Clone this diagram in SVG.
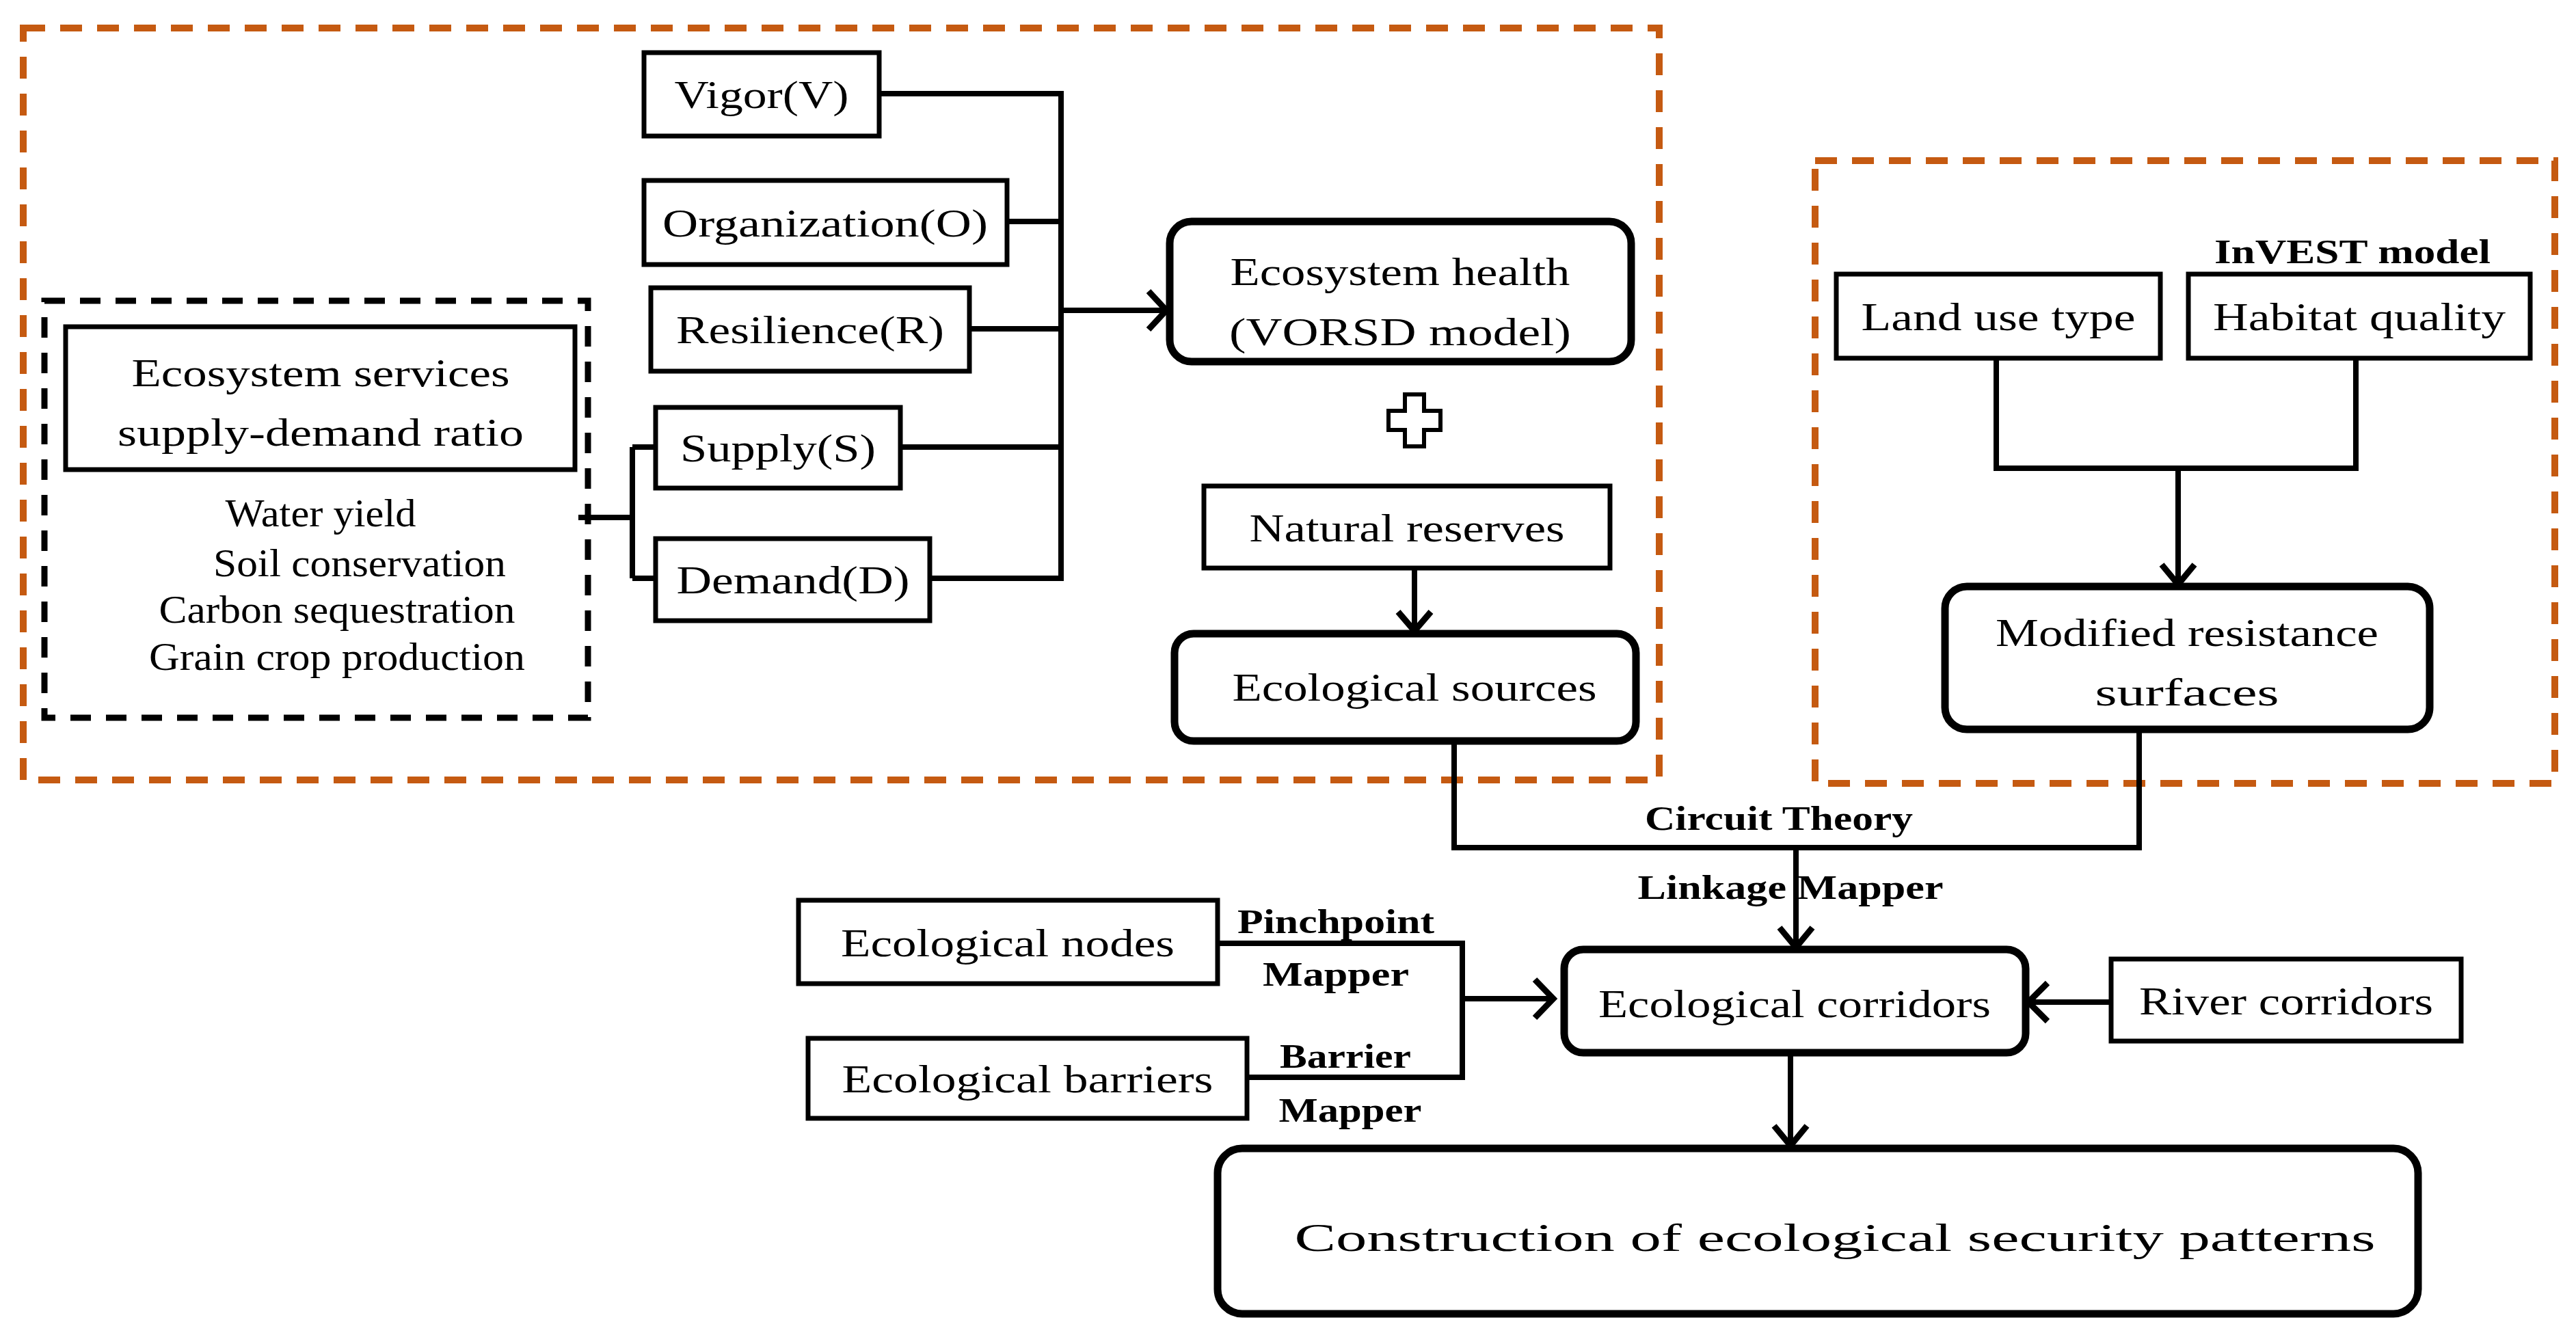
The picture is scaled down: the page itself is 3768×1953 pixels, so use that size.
<svg xmlns="http://www.w3.org/2000/svg" width="3768" height="1953" viewBox="0 0 3768 1953">
<style>
text{font-family:"Liberation Serif","Times New Roman",serif;font-size:58px;fill:#000;text-anchor:middle}
.b{font-weight:bold;font-size:50px}
.box{fill:#fff;stroke:#000;stroke-width:7}
.rbox{fill:#fff;stroke:#000;stroke-width:11}
.ln{fill:none;stroke:#000;stroke-width:8}
.org{fill:none;stroke:#C55A11;stroke-width:10;stroke-dasharray:32 22}
.blk{fill:none;stroke:#000;stroke-width:9;stroke-dasharray:30 22}
</style>
<defs>
<marker id="ah" viewBox="0 0 10 10" refX="9" refY="5" markerWidth="5" markerHeight="5" orient="auto" markerUnits="userSpaceOnUse" overflow="visible">
<path d="M0,0 L9,5 L0,10" fill="none" stroke="#000" stroke-width="2"/>
</marker>
</defs>
<rect width="3768" height="1953" fill="#fff"/>
<rect class="org" x="34" y="41" width="2393" height="1100"/>
<rect class="org" x="2655" y="235" width="1082" height="911"/>
<rect class="blk" x="65" y="440" width="795" height="610"/>
<g id="connectors">
<path class="ln" d="M1286,137 H1552 M1473,324 H1552 M1418,481 H1552 M1317,654 H1552 M1360,846 H1552 M1552,133 V850"/>
<path class="ln" d="M1552,454 H1703" marker-end="url(#ah)" style="marker-end:url(#ah)"/>
<path class="ln" d="M846,757 H925 M925,654 V846 M925,654 H959 M925,846 H959"/>
<path class="ln" d="M2069,831 V920"/>
<path class="ln" d="M2920,524 V685 H3446 V524 M3186,685 V852"/>
<path class="ln" d="M2127,1084 V1240 H3129 V1067 M2627,1240 V1382"/>
<path class="ln" d="M3088,1466 H2970"/>
<path class="ln" d="M1781,1380 H2139 V1576 H1824 M2139,1461 H2266"/>
<path class="ln" d="M2619,1540 V1672"/>
<g fill="none" stroke="#000" stroke-width="9">
<path d="M1680,426 L1706,454 L1680,482"/>
<path d="M2045,895 L2069,923 L2093,895"/>
<path d="M3162,826 L3186,855 L3210,826"/>
<path d="M2603,1357 L2627,1386 L2651,1357"/>
<path d="M2995,1438 L2967,1466 L2995,1494"/>
<path d="M2245,1433 L2272,1461 L2245,1489"/>
<path d="M2595,1647 L2619,1676 L2643,1647"/>
</g>
</g>
<g id="es-ratio"><rect class="box" x="96" y="478" width="745" height="209"/>
<text x="469" y="565" textLength="553" lengthAdjust="spacingAndGlyphs">Ecosystem services</text>
<text x="469" y="652" textLength="594" lengthAdjust="spacingAndGlyphs">supply-demand ratio</text></g>
<g id="es-list">
<text x="469" y="770" font-size="52" textLength="279" lengthAdjust="spacingAndGlyphs">Water yield</text>
<text x="526" y="843" font-size="52" textLength="428" lengthAdjust="spacingAndGlyphs">Soil conservation</text>
<text x="493" y="911" font-size="52" textLength="521" lengthAdjust="spacingAndGlyphs">Carbon sequestration</text>
<text x="493" y="980" font-size="52" textLength="550" lengthAdjust="spacingAndGlyphs">Grain crop production</text></g>
<g id="vigor"><rect class="box" x="942" y="77" width="344" height="122"/><text x="1114" y="158" textLength="255" lengthAdjust="spacingAndGlyphs">Vigor(V)</text></g>
<g id="org"><rect class="box" x="942" y="264" width="531" height="123"/><text x="1207" y="346" textLength="476" lengthAdjust="spacingAndGlyphs">Organization(O)</text></g>
<g id="res"><rect class="box" x="952" y="421" width="466" height="122"/><text x="1185" y="502" textLength="392" lengthAdjust="spacingAndGlyphs">Resilience(R)</text></g>
<g id="sup"><rect class="box" x="959" y="596" width="358" height="118"/><text x="1138" y="675" textLength="286" lengthAdjust="spacingAndGlyphs">Supply(S)</text></g>
<g id="dem"><rect class="box" x="959" y="788" width="401" height="120"/><text x="1160" y="868" textLength="341" lengthAdjust="spacingAndGlyphs">Demand(D)</text></g>
<g id="eh"><rect class="rbox" x="1711" y="324" width="675" height="205" rx="32"/>
<text x="2048" y="417" textLength="497" lengthAdjust="spacingAndGlyphs">Ecosystem health</text>
<text x="2048" y="505" textLength="500" lengthAdjust="spacingAndGlyphs">(VORSD model)</text></g>
<g id="plus"><path d="M2055,577 H2083 V601 H2107 V629 H2083 V653 H2055 V629 H2031 V601 H2055 Z" fill="#fff" stroke="#000" stroke-width="6"/></g>
<g id="nr"><rect class="box" x="1761" y="711" width="594" height="120"/><text x="2058" y="792" textLength="461" lengthAdjust="spacingAndGlyphs">Natural reserves</text></g>
<g id="esrc"><rect class="rbox" x="1718" y="927" width="675" height="157" rx="28"/><text x="2069" y="1025" textLength="533" lengthAdjust="spacingAndGlyphs">Ecological sources</text></g>
<g id="lut"><rect class="box" x="2686" y="401" width="474" height="123"/><text x="2923" y="483" textLength="401" lengthAdjust="spacingAndGlyphs">Land use type</text></g>
<g id="hq"><rect class="box" x="3201" y="401" width="500" height="123"/><text x="3451" y="483" textLength="428" lengthAdjust="spacingAndGlyphs">Habitat quality</text>
<text class="b" x="3441" y="385" textLength="404" lengthAdjust="spacingAndGlyphs">InVEST model</text></g>
<g id="mrs"><rect class="rbox" x="2845" y="858" width="709" height="209" rx="32"/>
<text x="3199" y="945" textLength="560" lengthAdjust="spacingAndGlyphs">Modified resistance</text>
<text x="3199" y="1032" textLength="269" lengthAdjust="spacingAndGlyphs">surfaces</text></g>
<g id="labels">
<text class="b" x="2602" y="1214" textLength="392" lengthAdjust="spacingAndGlyphs">Circuit Theory</text>
<text class="b" x="2619" y="1315" textLength="447" lengthAdjust="spacingAndGlyphs">Linkage Mapper</text>
<text class="b" x="1954" y="1365" textLength="288" lengthAdjust="spacingAndGlyphs">Pinchpoint</text>
<text class="b" x="1954" y="1442" textLength="214" lengthAdjust="spacingAndGlyphs">Mapper</text>
<text class="b" x="1968" y="1562" textLength="192" lengthAdjust="spacingAndGlyphs">Barrier</text>
<text class="b" x="1975" y="1641" textLength="209" lengthAdjust="spacingAndGlyphs">Mapper</text></g>
<g id="ec"><rect class="rbox" x="2288" y="1389" width="675" height="151" rx="28"/><text x="2625" y="1488" textLength="574" lengthAdjust="spacingAndGlyphs">Ecological corridors</text></g>
<g id="rc"><rect class="box" x="3088" y="1403" width="512" height="120"/><text x="3344" y="1484" textLength="430" lengthAdjust="spacingAndGlyphs">River corridors</text></g>
<g id="en"><rect class="box" x="1168" y="1317" width="613" height="122"/><text x="1474" y="1399" textLength="488" lengthAdjust="spacingAndGlyphs">Ecological nodes</text></g>
<g id="eb"><rect class="box" x="1182" y="1519" width="642" height="117"/><text x="1503" y="1598" textLength="543" lengthAdjust="spacingAndGlyphs">Ecological barriers</text></g>
<g id="cesp"><rect class="rbox" x="1781" y="1680" width="1756" height="242" rx="36"/><text x="2684" y="1830" font-size="82" textLength="1581" lengthAdjust="spacingAndGlyphs">Construction of ecological security patterns</text></g>
</svg>
